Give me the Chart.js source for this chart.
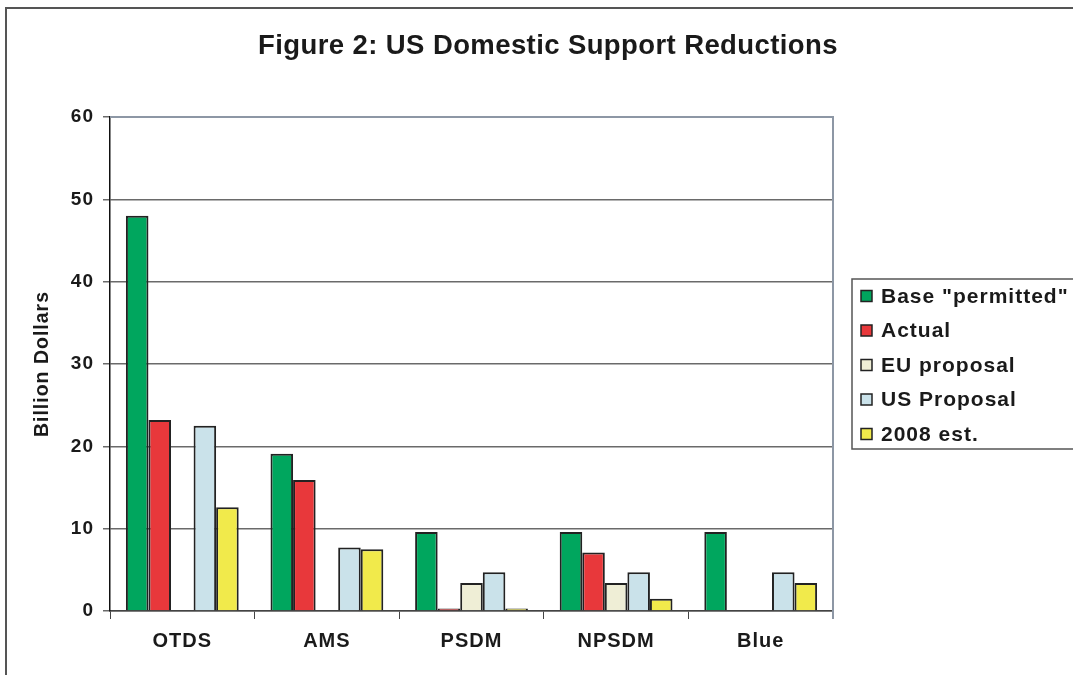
<!DOCTYPE html>
<html>
<head>
<meta charset="utf-8">
<title>Figure 2: US Domestic Support Reductions</title>
<script src="https://cdn.jsdelivr.net/npm/chart.js@4.4.1/dist/chart.umd.min.js"></script>
<style>
  html, body { margin: 0; padding: 0; background: #fff; }
  #wrap { width: 1073px; height: 675px; }
</style>
</head>
<body>
<div id="wrap"><canvas id="chart" width="1073" height="675"></canvas></div>
<script>
// data (billion dollars)
const categories = ['OTDS', 'AMS', 'PSDM', 'NPSDM', 'Blue'];
const seriesNames = ['Base "permitted"', 'Actual', 'EU proposal', 'US Proposal', '2008 est.'];
const basePermitted = [48.0, 19.1, 9.6, 9.6, 9.6];
const actual = [23.2, 15.9, 0.3, 7.1, null];
const euProposal = [null, null, 3.4, 3.4, null];
const usProposal = [22.5, 7.7, 4.7, 4.7, 4.7];
const est2008 = [12.6, 7.5, 0.3, 1.5, 3.4];
const yTicks = [0, 10, 20, 30, 40, 50, 60];

const colors = ['#00a65e', '#e8383b', '#efeed6', '#cae2ea', '#f1ea4b'];
const FONT = '"Liberation Sans", Arial, Helvetica, sans-serif';

const seriesValues = [basePermitted, actual, euProposal, usProposal, est2008];

// the original uses loosely tracked Helvetica, so widen the axis text a bit
const tracking = {
  id: 'tracking',
  beforeLayout(chart) { chart.ctx.letterSpacing = '1px'; },
  beforeDraw(chart) { chart.ctx.letterSpacing = '1px'; }
};

// frame, plot border, title and legend box
const decorations = {
  id: 'decorations',
  afterDraw(chart) {
    const ctx = chart.ctx;
    const a = chart.chartArea;
    ctx.save();
    // outer frame
    ctx.strokeStyle = '#555';
    ctx.lineWidth = 2;
    ctx.beginPath();
    ctx.moveTo(6, 675);
    ctx.lineTo(6, 8);
    ctx.lineTo(1073, 8);
    ctx.stroke();
    // plot area border (top + right)
    ctx.strokeStyle = '#8d97a5';
    ctx.lineWidth = 2;
    ctx.beginPath();
    ctx.moveTo(a.left, a.top);
    ctx.lineTo(a.right, a.top);
    ctx.lineTo(a.right, a.bottom + 8);
    ctx.stroke();
    // title
    ctx.fillStyle = '#1a1a1a';
    ctx.letterSpacing = '0.4px';
    ctx.font = 'bold 27.5px ' + FONT;
    ctx.textAlign = 'left';
    ctx.textBaseline = 'middle';
    const title = 'Figure 2: US Domestic Support Reductions';
    const tw = ctx.measureText(title).width;
    ctx.fillText(title, 548 - tw / 2, 46);
    // legend
    const lx = 852, ly = 279;
    ctx.strokeStyle = '#555';
    ctx.lineWidth = 1.5;
    ctx.strokeRect(lx, ly, 240, 170);
    ctx.letterSpacing = '1px';
    ctx.font = 'bold 21px ' + FONT;
    chart.data.datasets.forEach((ds, i) => {
      const cy = 296 + i * 34.5;
      ctx.fillStyle = ds.backgroundColor;
      ctx.fillRect(861, cy - 5.5, 11, 11);
      ctx.strokeStyle = '#222';
      ctx.lineWidth = 1.5;
      ctx.strokeRect(861, cy - 5.5, 11, 11);
      ctx.fillStyle = '#1a1a1a';
      ctx.fillText(ds.label, 881, cy + 1);
    });
    ctx.restore();
  }
};

new Chart(document.getElementById('chart'), {
  type: 'bar',
  data: {
    labels: categories,
    datasets: seriesNames.map((name, i) => ({
      label: name,
      data: seriesValues[i],
      backgroundColor: colors[i],
      borderColor: '#222',
      borderWidth: 2,
      categoryPercentage: 0.78,
      barPercentage: 1.0
    }))
  },
  options: {
    responsive: false,
    animation: false,
    devicePixelRatio: 1,
    layout: { padding: { top: 117, right: 240, bottom: 0, left: 0 } },
    plugins: {
      legend: { display: false },
      title: { display: false },
      tooltip: { enabled: false }
    },
    scales: {
      x: {
        grid: {
          offset: true,
          drawOnChartArea: false,
          drawTicks: true,
          tickLength: 8,
          color: '#444',
          lineWidth: 1
        },
        border: { display: true, color: '#444', width: 1.5 },
        ticks: {
          color: '#1a1a1a',
          padding: 10,
          font: { family: FONT, size: 20, weight: 'bold' }
        },
        afterFit(scale) { scale.height = 64; }
      },
      y: {
        min: 0,
        max: 60,
        afterBuildTicks(scale) { scale.ticks = yTicks.map(v => ({ value: v })); },
        grid: {
          color: '#6a6a6a',
          lineWidth: 1.5,
          drawTicks: true,
          tickLength: 7
        },
        border: { display: true, color: '#111', width: 1.5 },
        ticks: {
          color: '#1a1a1a',
          padding: 9,
          font: { family: FONT, size: 19, weight: 'bold' }
        },
        title: {
          display: true,
          text: 'Billion Dollars',
          color: '#1a1a1a',
          padding: { top: 31, bottom: 0 },
          font: { family: FONT, size: 19.5, weight: 'bold' }
        },
        afterFit(scale) { scale.width = 110; }
      }
    }
  },
  plugins: [tracking, decorations]
});
</script>
</body>
</html>
